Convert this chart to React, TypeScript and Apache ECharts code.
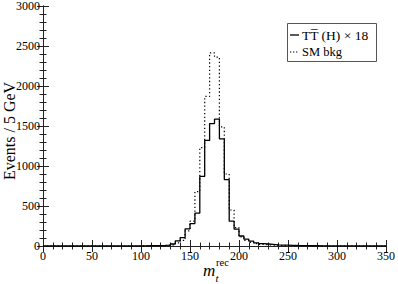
import React, { useEffect, useRef } from "react";
import * as echarts from "echarts";

// Histogram: 5 GeV bins, values listed from the bin whose left edge is binStart
const binWidth = 5;
const binStart = 100;
const signalTT = [
  2, 3, 4, 5, 8, 12, 25, 65, 105, 215, 280, 410, 870, 1320, 1530, 1585, 1340, 830, 310, 210,
  125, 85, 60, 40, 30, 25, 20, 15, 12, 10, 8, 6, 5, 4, 3, 3, 2, 2, 1, 1, 1,
];
const smBkg = [
  1, 2, 3, 4, 6, 10, 15, 40, 70, 190, 310, 680, 1230, 1870, 2415, 2360, 1490, 900, 450, 230,
  115, 70, 45, 30, 20, 15, 10, 8, 6, 5, 4, 3, 2, 2, 1, 1, 1, 0, 0, 0, 0,
];
const xMin = 0;
const xMax = 350;
const yMin = 0;
const yMax = 3000;
const legendSignal = "TT\u0305 (H) \u00d7 18";
const legendBkg = "SM bkg";
const yTitle = "Events / 5 GeV";

const FONT = "Liberation Serif, DejaVu Serif, serif";

function histPoints(vals: number[]): number[][] {
  const pts: number[][] = [[xMin, 0]];
  vals.forEach((v, i) => pts.push([binStart + i * binWidth, v]));
  const end = binStart + vals.length * binWidth;
  pts.push([end, 0]);
  pts.push([xMax, 0]);
  return pts;
}

export default function App() {
  const ref = useRef<HTMLDivElement>(null);
  useEffect(() => {
    if (!ref.current) return;
    const chart = echarts.init(ref.current, undefined, { renderer: "svg" });
    const axisCommon = {
      axisLine: { show: true, lineStyle: { color: "#222", width: 1 } },
      axisTick: { show: true, inside: true, length: 6, lineStyle: { color: "#222" } },
      minorTick: { show: true, splitNumber: 5, length: 3.5, lineStyle: { color: "#222" } },
      splitLine: { show: false },
    };
    const plain = (v: number) => String(v);
    const text = (
      t: string,
      x: number,
      y: number,
      size: number,
      opts: Record<string, unknown> = {}
    ) => ({
      type: "text",
      x,
      y,
      z: 11,
      style: {
        text: t,
        fontFamily: FONT,
        fontSize: size,
        fill: "#000",
        textAlign: "left",
        textVerticalAlign: "middle",
        ...opts,
      },
    });
    chart.setOption({
      animation: false,
      backgroundColor: "#fff",
      grid: { left: 43, right: 10, top: 6, bottom: 38, containLabel: false },
      xAxis: [
        {
          type: "value",
          min: xMin,
          max: xMax,
          interval: 50,
          position: "bottom",
          ...axisCommon,
          axisLabel: { fontFamily: FONT, fontSize: 12, color: "#000", margin: 4, formatter: plain },
        },
        {
          type: "value",
          min: xMin,
          max: xMax,
          interval: 50,
          position: "top",
          ...axisCommon,
          axisLabel: { show: false },
        },
      ],
      yAxis: [
        {
          type: "value",
          min: yMin,
          max: yMax,
          interval: 500,
          position: "left",
          ...axisCommon,
          axisLabel: { fontFamily: FONT, fontSize: 12, color: "#000", margin: 3, formatter: plain },
        },
        {
          type: "value",
          min: yMin,
          max: yMax,
          interval: 500,
          position: "right",
          ...axisCommon,
          axisLabel: { show: false },
        },
      ],
      series: [
        {
          type: "line",
          step: "end",
          data: histPoints(smBkg),
          showSymbol: false,
          lineStyle: { color: "#000", width: 1.2, type: [1.3, 2.4] },
          z: 2,
        },
        {
          type: "line",
          step: "end",
          data: histPoints(signalTT),
          showSymbol: false,
          lineStyle: { color: "#000", width: 1.3 },
          z: 3,
        },
      ],
      graphic: [
        {
          ...text(yTitle, 9, 131, 16, { textAlign: "center" }),
          rotation: Math.PI / 2,
        },
        text("m", 203, 279, 17, { fontStyle: "italic", textVerticalAlign: "bottom" }),
        text("t", 215.5, 283, 11, { fontStyle: "italic", textVerticalAlign: "bottom" }),
        text("rec", 216, 268, 10.5, { textVerticalAlign: "bottom" }),
        {
          type: "rect",
          shape: { x: 287.5, y: 23.5, width: 89, height: 38 },
          style: { fill: "#fff", stroke: "#555", lineWidth: 1 },
          z: 10,
        },
        {
          type: "line",
          shape: { x1: 290, y1: 35, x2: 299, y2: 35 },
          style: { stroke: "#000", lineWidth: 1.3 },
          z: 11,
        },
        {
          type: "line",
          shape: { x1: 290, y1: 52, x2: 299, y2: 52 },
          style: { stroke: "#000", lineWidth: 1.2, lineDash: [1.3, 1.7] },
          z: 11,
        },
        text(legendSignal, 302, 35, 13.5),
        text(legendBkg, 302, 52, 12.5),
      ],
    });
    return () => chart.dispose();
  }, []);
  return <div ref={ref} style={{ width: 398, height: 284, position: "fixed", left: 0, top: 0 }} />;
}
